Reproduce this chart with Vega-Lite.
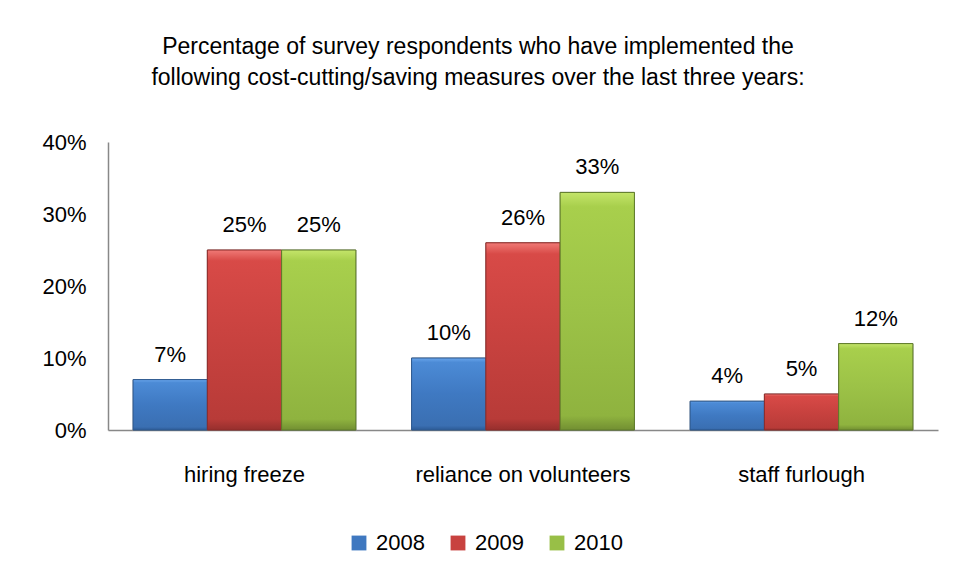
{
  "$schema": "https://vega.github.io/schema/vega-lite/v6.json",
  "autosize": "none",
  "width": 830,
  "height": 288,
  "padding": {"left": 108, "top": 142, "right": 16, "bottom": 148},
  "background": "white",
  "config": {
    "font": "Liberation Sans",
    "view": {"stroke": null}
  },
  "title": {
    "text": ["Percentage of survey respondents who have implemented the", "following cost-cutting/saving measures over the last three years:"],
    "fontSize": 23,
    "fontWeight": "normal",
    "color": "#000000",
    "lineHeight": 31,
    "anchor": "middle",
    "dx": -45,
    "offset": 41
  },
  "data": {
    "values": [
      {"measure": "hiring freeze", "year": "2008", "pct": 0.07},
      {"measure": "hiring freeze", "year": "2009", "pct": 0.25},
      {"measure": "hiring freeze", "year": "2010", "pct": 0.25},
      {"measure": "reliance on volunteers", "year": "2008", "pct": 0.10},
      {"measure": "reliance on volunteers", "year": "2009", "pct": 0.26},
      {"measure": "reliance on volunteers", "year": "2010", "pct": 0.33},
      {"measure": "staff furlough", "year": "2008", "pct": 0.04},
      {"measure": "staff furlough", "year": "2009", "pct": 0.05},
      {"measure": "staff furlough", "year": "2010", "pct": 0.12}
    ]
  },
  "encoding": {
    "x": {
      "field": "measure", "type": "nominal", "sort": null,
      "scale": {"paddingInner": 0.2, "paddingOuter": 0.09},
      "axis": {"title": null, "labelAngle": 0, "labelFontSize": 22, "labelLimit": 400, "labelColor": "#000000", "labelPadding": 34, "ticks": false, "domainColor": "#888888", "domainWidth": 1.5}
    },
    "xOffset": {"field": "year", "type": "nominal", "scale": {"domain": ["2008", "2009", "2010"], "paddingInner": 0}},
    "y": {
      "field": "pct", "type": "quantitative",
      "scale": {"domain": [0, 0.4]},
      "axis": {"title": null, "format": ".0%", "values": [0, 0.1, 0.2, 0.3, 0.4], "labelOverlap": false, "grid": false, "ticks": false, "labelFontSize": 22, "labelColor": "#000000", "labelPadding": 22, "domainColor": "#888888", "domainWidth": 1.5}
    }
  },
  "layer": [
    {
      "mark": {"type": "bar", "stroke": "#444444", "strokeOpacity": 0.5, "strokeWidth": 1},
      "encoding": {
        "color": {
          "field": "year", "type": "nominal",
          "scale": {"domain": ["2008", "2009", "2010"], "range": ["#3f78c0", "#c8423f", "#98bf47"]},
          "legend": {
            "title": null, "orient": "none", "direction": "horizontal",
            "legendX": 240, "legendY": 390,
            "labelFontSize": 22, "labelColor": "#000000",
            "symbolType": "square", "symbolSize": 220, "symbolStrokeWidth": 0,
            "columnPadding": 22, "labelOffset": 6
          }
        }
      }
    },
    {
      "transform": [{"filter": "datum.year === '2008'"}],
      "mark": {"type": "bar", "stroke": "#2f5a90", "strokeWidth": 1,
        "color": {"gradient": "linear", "x1": 0, "y1": 0, "x2": 0, "y2": 1, "stops": [{"offset": 0, "color": "#6aa6ec"}, {"offset": 0.06, "color": "#4c8bd6"}, {"offset": 0.5, "color": "#3f79c2"}, {"offset": 0.94, "color": "#3a6fb2"}, {"offset": 1, "color": "#2c5a95"}]}}
    },
    {
      "transform": [{"filter": "datum.year === '2009'"}],
      "mark": {"type": "bar", "stroke": "#8c2b29", "strokeWidth": 1,
        "color": {"gradient": "linear", "x1": 0, "y1": 0, "x2": 0, "y2": 1, "stops": [{"offset": 0, "color": "#f07a76"}, {"offset": 0.06, "color": "#d84a47"}, {"offset": 0.5, "color": "#c8423f"}, {"offset": 0.94, "color": "#b83b38"}, {"offset": 1, "color": "#962f2d"}]}}
    },
    {
      "transform": [{"filter": "datum.year === '2010'"}],
      "mark": {"type": "bar", "stroke": "#5e7a2a", "strokeWidth": 1,
        "color": {"gradient": "linear", "x1": 0, "y1": 0, "x2": 0, "y2": 1, "stops": [{"offset": 0, "color": "#c4e56a"}, {"offset": 0.06, "color": "#a8cf4c"}, {"offset": 0.5, "color": "#9cc247"}, {"offset": 0.94, "color": "#8fb33f"}, {"offset": 1, "color": "#728f32"}]}}
    },
    {
      "mark": {"type": "text", "baseline": "bottom", "dy": -13, "fontSize": 22, "color": "#000000"},
      "encoding": {
        "text": {"field": "pct", "type": "quantitative", "format": ".0%"}
      }
    }
  ]
}
